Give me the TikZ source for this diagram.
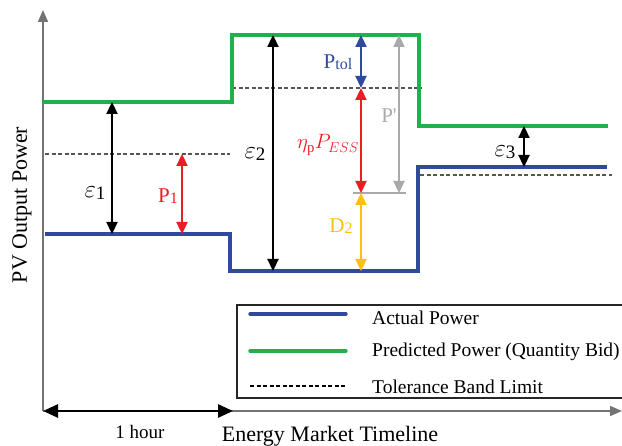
\documentclass[tikz,border=0pt]{standalone}
\usepackage{fontspec}
\setmainfont{Liberation Serif}
\usetikzlibrary{arrows.meta,positioning}
\definecolor{pvblue}{HTML}{2F4A9D}
\definecolor{pvgreen}{HTML}{22B04B}
\definecolor{pvred}{HTML}{EC1C24}
\definecolor{pvgold}{HTML}{FDBF10}
\definecolor{pvgray}{HTML}{A8A9AB}
\definecolor{band}{HTML}{555658}
\colorlet{axisc}{black!55}
\tikzset{actual/.style={pvblue,line width=3.4pt},
  predicted/.style={pvgreen,line width=3.4pt},
  tolband/.style={band,line width=1.5pt,dash pattern=on 4pt off 2.5pt},
  gap/.style={line width=2.3pt,{Triangle[width=11pt,length=12pt]}-{Triangle[width=11pt,length=12pt]}},
  axis/.style={axisc,line width=1.6pt,-{Triangle[width=10pt,length=12pt]}},
  lbl/.style={inner sep=0pt,font=\fontsize{21}{23}\selectfont},
  eps/.style={inner sep=0pt,font=\fontsize{27}{29}\selectfont},
  leg/.style={inner sep=0pt,anchor=west,font=\fontsize{19.5}{21}\selectfont},
  title/.style={inner sep=0pt,font=\fontsize{22}{24}\selectfont}}
\newcommand{\epsl}[1]{$\varepsilon$\raisebox{-0.15ex}{\fontsize{19}{21}\selectfont #1}}

\begin{document}
\begin{tikzpicture}[x=1pt,y=-1pt]
\useasboundingbox (0,0) rectangle (622,446);
\coordinate (origin) at (43,411);
\coordinate (ytip) at (43,10);
\coordinate (xtip) at (622,411);
\coordinate (hour) at (233,411);
\draw[axis] (origin) -- (ytip);
\draw[axis] (origin) -- (xtip);
\draw[line width=2.8pt,{Triangle[width=13pt,length=15pt]}-{Triangle[width=13pt,length=15pt]}] (origin) -- (hour);

\draw[tolband] (45,154) -- (230,154) (232,88) -- (422,88) (420,175) -- (612,175);
\draw[actual,line join=miter] (45,234) -- (230,234) -- (230,271) -- (418,271) -- (418,167) -- (607,167);
\draw[predicted,line join=miter] (43,102) -- (232,102) -- (232,35) -- (419,35) -- (419,126) -- (608,126);
\draw[pvgray,line width=1.8pt] (353,193) -- (406,193);

\foreach \n/\x/\a/\b/\c in {e1/112/102/234/black,p1/182/154/234/pvred,e2/273/35/271/black,
  tol/361/35/88/pvblue,ess/361/88/193/pvred,d2/361/193/271/pvgold,pp/399/35/193/pvgray,e3/524/126/167/black}{
 \coordinate (\n-top) at (\x,\a);
 \coordinate (\n-bot) at (\x,\b);
 \draw[gap,\c] (\n-top) -- (\n-bot);}

\node[eps] (le1) at (95,193) {\epsl{1}};
\node[lbl,text=pvred] (lp1) at (168,196) {P\raisebox{-0.1ex}{\fontsize{16}{18}\selectfont 1}};
\node[eps] (le2) at (255,154) {\epsl{2}};
\node[lbl,text=pvblue] (ltol) at (338,62) {P\raisebox{-0.1ex}{\fontsize{16}{18}\selectfont tol}};
\node[lbl,text=pvred] (less) at (328,145) {$\eta_{\mathrm{p}}P_{ESS}$};
\node[lbl,text=pvgray] (lpp) at (389,116) {P\textquotesingle};
\node[lbl,text=pvgold] (ld2) at (341,226) {D\raisebox{-0.1ex}{\fontsize{16}{18}\selectfont 2}};
\node[eps] (le3) at (505,152) {\epsl{3}};

\draw[black!85,line width=1.2pt] (237,305) rectangle (626,398);
\draw[actual,line cap=round] (250,314) -- (346,314);
\draw[predicted,line cap=round] (250,351) -- (346,351);
\draw[black,line width=1.5pt,dash pattern=on 4pt off 2.5pt] (250,386) -- (346,386);
\node[leg] (lactual) at (372,318) {Actual Power};
\node[leg] (lpred) at (372,352) {Predicted Power (Quantity Bid)};
\node[leg] (lband) at (372,387) {Tolerance Band Limit};

\node[title,rotate=90] (ylab) at (22,205) {PV Output Power};
\node[inner sep=0pt,font=\fontsize{19}{21}\selectfont] (lhour) at (140,432) {1 hour};
\node[title] (xlab) at (330,436) {Energy Market Timeline};
\end{tikzpicture}
\end{document}
